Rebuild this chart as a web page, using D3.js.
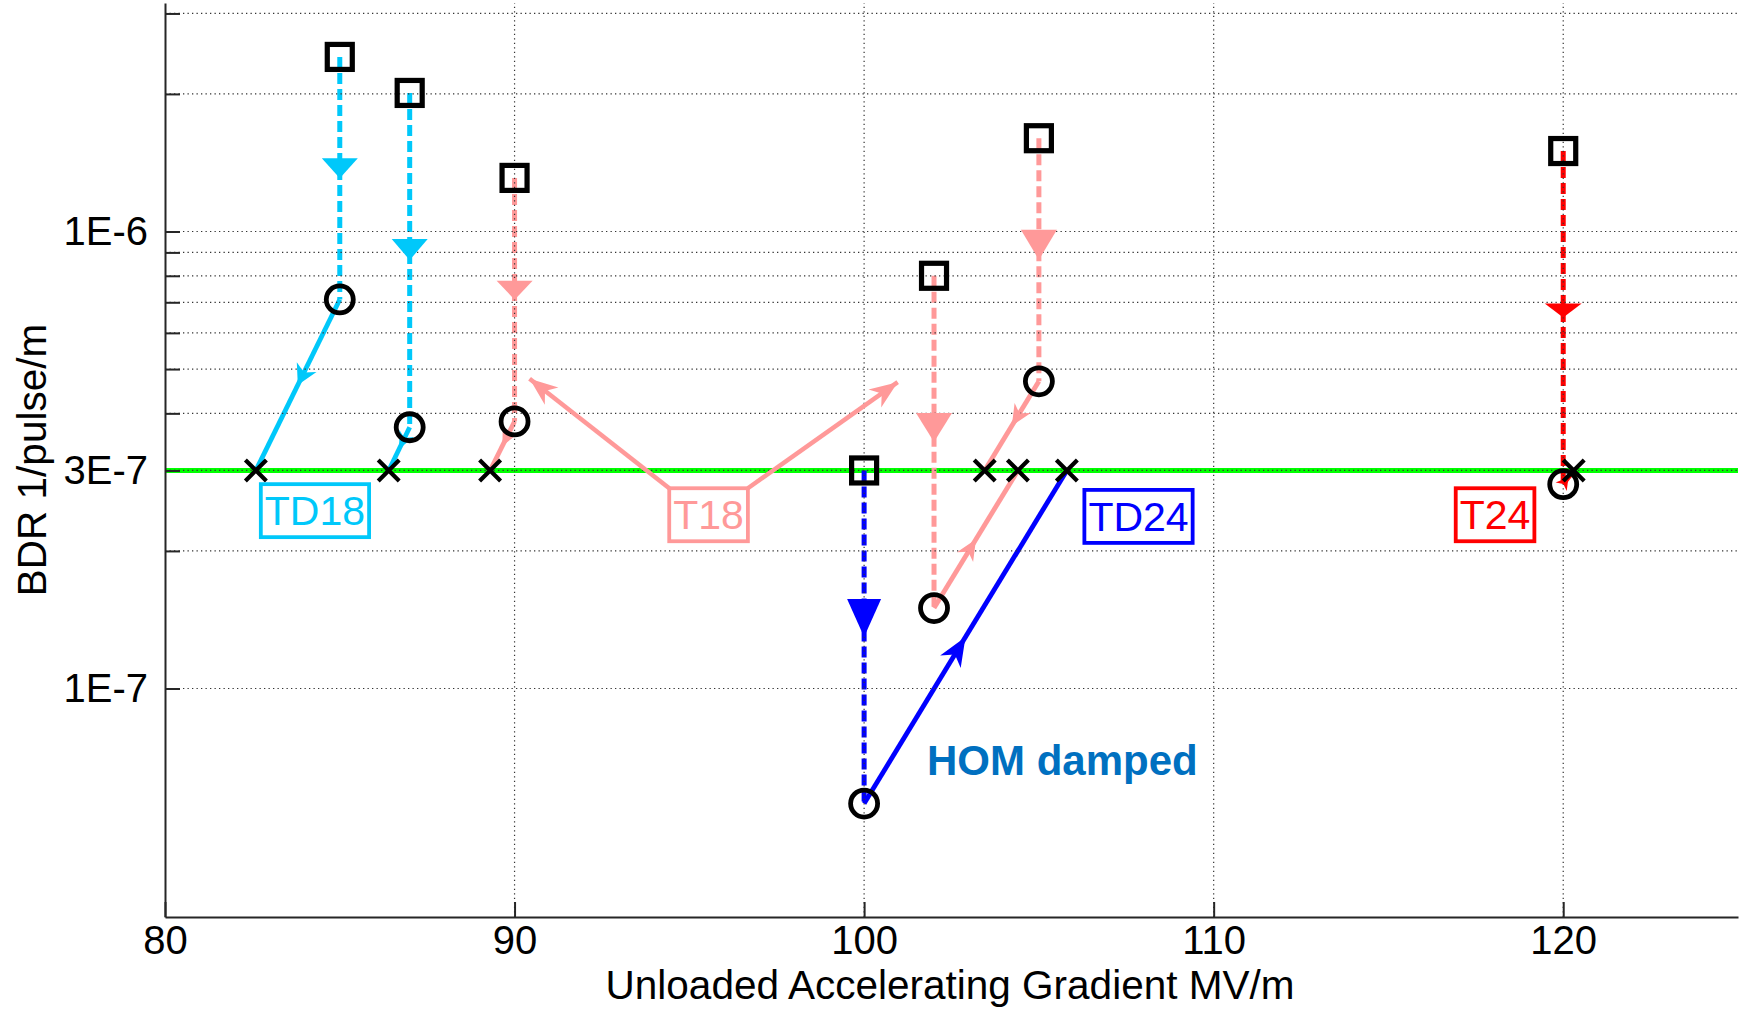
<!DOCTYPE html>
<html lang="en">
<head>
<meta charset="utf-8">
<title>BDR vs unloaded gradient</title>
<script src="https://cdn.jsdelivr.net/npm/d3@7"></script>
<style>
  body { margin: 0; background: #fff; }
  svg { display: block; background: #fff; }
  text { font-family: "Liberation Sans", Arial, sans-serif; }
  .grid line { stroke: #333; stroke-width: 1.2; stroke-dasharray: 1.3,3.2; }
  .axis path, .axis line { stroke: #262626; stroke-width: 2; }
  .axis text { font-size: 40px; fill: #000; }
  .title { font-size: 40.5px; fill: #000; }
</style>
</head>
<body>
<svg id="chart"></svg>
<script>
// one entry per structure run: square = before, circle = after conditioning,
// cross = gradient where BDR reaches the 3E-7 target
var structure = ["TD18", "TD18", "T18", "T18", "T18", "TD24", "T24"];
var gradStart = [85, 87, 90, 102, 105, 100, 120];
var bdrSquare = [2.41e-6, 2.01e-6, 1.31e-6, 8.0e-7, 1.6e-6, 3.0e-7, 1.5e-6];
var bdrCircle = [7.1e-7, 3.73e-7, 3.84e-7, 1.5e-7, 4.7e-7, 5.6e-8, 2.8e-7];
var gradCross = [82.6, 86.4, 89.3, 104.4, 103.45, 105.8, 120.3];
var bdrTarget = 3e-7;

var xTicks = [80, 90, 100, 110, 120];
var yTicks = [1e-7, 2e-7, 3e-7, 4e-7, 5e-7, 6e-7, 7e-7, 8e-7, 9e-7, 1e-6, 2e-6, 3e-6];
var yLabelValues = [1e-7, 3e-7, 1e-6];
var yLabelText = ["1E-7", "3E-7", "1E-6"];

// label boxes (centre in data units)
var labelText = ["TD18", "T18", "TD24", "T24"];
var labelGrad = [84.29, 95.55, 107.85, 118.05];
var labelBdr = [2.45e-7, 2.40e-7, 2.38e-7, 2.40e-7];
// T18 callout arrow tips
var calloutGrad = [90.43, 100.96];
var calloutBdr = [4.76e-7, 4.68e-7];

var colors = { TD18: "#00C8FA", T18: "#FF9999", TD24: "#0000FF", T24: "#FF0000" };
// arrow head sizes [width, length] for dashed and solid segments
var dashHead = [[36, 20], [36, 21], [36, 19], [36, 29], [36, 30], [34, 38], [37, 14]];
var solidHead = [[22, 20], [16, 17], [16, 17], [19, 21], [19, 21], [24, 29], [14, 12]];

var W = 1748, H = 1009;
var svg = d3.select("#chart").attr("width", W).attr("height", H);

var x = d3.scaleLinear().domain([80, 125]).range([165, 1738]);
var y = d3.scaleLog().domain([Math.pow(10, -7.5), Math.pow(10, -5.5)]).range([917, 3]);

function head(p0, p1, wid, len, atMid, notch) {
  var dx = p1[0] - p0[0], dy = p1[1] - p0[1], d = Math.hypot(dx, dy);
  var ux = dx / d, uy = dy / d, nx = -uy, ny = ux;
  var tip = atMid ? [(p0[0] + p1[0]) / 2, (p0[1] + p1[1]) / 2] : p1;
  var bx = tip[0] - ux * len, by = tip[1] - uy * len;
  var pts = [tip, [bx + nx * wid / 2, by + ny * wid / 2]];
  if (notch) pts.push([tip[0] - ux * len * (1 - notch), tip[1] - uy * len * (1 - notch)]);
  pts.push([bx - nx * wid / 2, by - ny * wid / 2]);
  return "M" + pts.map(function(p) { return p[0].toFixed(1) + "," + p[1].toFixed(1); }).join("L") + "Z";
}

var data = structure.map(function(s, i) {
  return {
    s: s,
    sq: [x(gradStart[i]), y(bdrSquare[i])],
    ci: [x(gradStart[i]), y(bdrCircle[i])],
    cr: [x(gradCross[i]), y(bdrTarget)],
    dh: dashHead[i], sh: solidHead[i]
  };
});

// target line
svg.append("line")
  .attr("x1", x(80)).attr("x2", x(125))
  .attr("y1", y(bdrTarget)).attr("y2", y(bdrTarget))
  .attr("stroke", "#00FF00").attr("stroke-width", 5);

// dashed square -> circle, solid circle -> cross
var g = svg.append("g");
g.selectAll(".dash").data(data).enter().append("line")
  .attr("x1", function(d) { return d.sq[0]; }).attr("y1", function(d) { return d.sq[1]; })
  .attr("x2", function(d) { return d.ci[0]; }).attr("y2", function(d) { return d.ci[1]; })
  .attr("stroke", function(d) { return colors[d.s]; })
  .attr("stroke-width", 5).attr("stroke-dasharray", "11,5");
g.selectAll(".solid").data(data).enter().append("line")
  .attr("x1", function(d) { return d.ci[0]; }).attr("y1", function(d) { return d.ci[1]; })
  .attr("x2", function(d) { return d.cr[0]; }).attr("y2", function(d) { return d.cr[1]; })
  .attr("stroke", function(d) { return colors[d.s]; })
  .attr("stroke-width", 4.8);

// grid
var grid = svg.append("g").attr("class", "grid");
grid.selectAll(".gx").data(xTicks.slice(1)).enter().append("line")
  .attr("x1", x).attr("x2", x).attr("y1", y.range()[0]).attr("y2", y.range()[1]);
grid.selectAll(".gy").data(yTicks).enter().append("line")
  .attr("x1", x(80)).attr("x2", x(125)).attr("y1", y).attr("y2", y);

// arrow heads
g = svg.append("g");
g.selectAll(".dh").data(data).enter().append("path")
  .attr("d", function(d) { return head(d.sq, d.ci, d.dh[0], d.dh[1], true, 0); })
  .attr("fill", function(d) { return colors[d.s]; });
g.selectAll(".sh").data(data).enter().append("path")
  .attr("d", function(d) { return head(d.ci, d.cr, d.sh[0], d.sh[1], true, 0.3); })
  .attr("fill", function(d) { return colors[d.s]; });

// markers
var m = svg.append("g").attr("fill", "none").attr("stroke", "#000");
m.selectAll("rect").data(data).enter().append("rect")
  .attr("x", function(d) { return d.sq[0] - 12.5; }).attr("y", function(d) { return d.sq[1] - 12.5; })
  .attr("width", 25).attr("height", 25).attr("stroke-width", 5.2);
m.selectAll("circle").data(data).enter().append("circle")
  .attr("cx", function(d) { return d.ci[0]; }).attr("cy", function(d) { return d.ci[1]; })
  .attr("r", 13.5).attr("stroke-width", 4.8);
m.selectAll(".cross").data(data).enter().append("path")
  .attr("d", function(d) {
    var cx = d.cr[0], cy = d.cr[1], r = 10.5;
    return "M" + (cx - r) + "," + (cy - r) + "L" + (cx + r) + "," + (cy + r) +
           "M" + (cx - r) + "," + (cy + r) + "L" + (cx + r) + "," + (cy - r);
  })
  .attr("stroke-width", 4.2);

// axes
svg.append("g").attr("class", "axis")
  .attr("transform", "translate(0," + y.range()[0] + ")")
  .call(d3.axisBottom(x).tickValues(xTicks).tickSize(-15).tickSizeOuter(0).tickPadding(9)
    .tickFormat(d3.format("d")));
svg.append("g").attr("class", "axis")
  .attr("transform", "translate(" + x(80) + ",0)")
  .call(d3.axisLeft(y).tickValues(yTicks).tickSize(-15).tickSizeOuter(0).tickPadding(17)
    .tickFormat(function(v) {
      var k = yLabelValues.findIndex(function(u) { return Math.abs(u - v) / u < 1e-6; });
      return k < 0 ? "" : yLabelText[k];
    }));

svg.append("text").attr("class", "title")
  .attr("x", 950).attr("y", 999).attr("text-anchor", "middle")
  .text("Unloaded Accelerating Gradient MV/m");
svg.append("text").attr("class", "title")
  .attr("transform", "translate(46,460) rotate(-90)").attr("text-anchor", "middle")
  .text("BDR 1/pulse/m");

// label boxes
var boxes = [];
labelText.forEach(function(t, i) {
  var c = colors[t], cx = x(labelGrad[i]), cy = y(labelBdr[i]);
  var lg = svg.append("g");
  var txt = lg.append("text").attr("x", cx).attr("y", cy + 14.7)
    .attr("text-anchor", "middle").attr("font-size", 41).attr("fill", c).text(t);
  var bw = txt.node().getComputedTextLength() + 8, bh = 53;
  lg.insert("rect", "text")
    .attr("x", cx - bw / 2).attr("y", cy - bh / 2).attr("width", bw).attr("height", bh)
    .attr("fill", "#fff").attr("stroke", c).attr("stroke-width", 3.8);
  boxes.push({ t: t, x0: cx - bw / 2, x1: cx + bw / 2, y0: cy - bh / 2 });
});

// T18 callouts
var b = boxes[1];
calloutGrad.forEach(function(gv, i) {
  var from = [i === 0 ? b.x0 : b.x1, b.y0], to = [x(gv), y(calloutBdr[i])];
  svg.append("line").attr("x1", from[0]).attr("y1", from[1])
    .attr("x2", to[0]).attr("y2", to[1])
    .attr("stroke", colors.T18).attr("stroke-width", 4.5);
  svg.append("path").attr("d", head(from, to, 22, 28, false, 0.3)).attr("fill", colors.T18);
});

svg.append("text")
  .attr("x", x(101.8)).attr("y", y(6.47e-8))
  .attr("font-family", "'Open Sans', sans-serif").attr("font-weight", "bold")
  .attr("font-size", 42).attr("fill", "#0070C0")
  .text("HOM damped");
</script>
</body>
</html>
